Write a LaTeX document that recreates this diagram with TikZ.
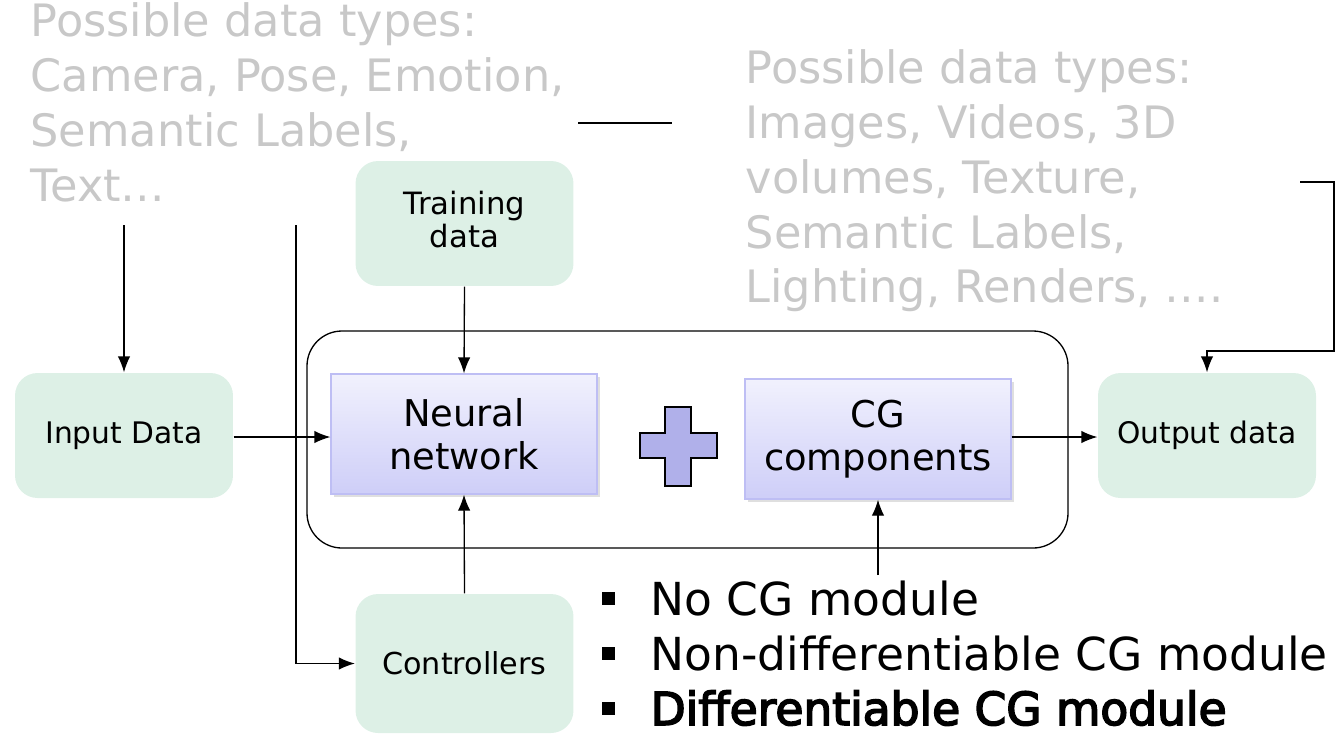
\documentclass[tikz,border=0pt]{standalone}
\usepackage{fontspec}
\setmainfont{DejaVu Sans}
\newfontfamily\heavyfont[FakeBold=3.5]{DejaVu Sans}
\usetikzlibrary{shadows,arrows.meta}

\definecolor{boxgreen}{RGB}{221,240,230}
\definecolor{textgrey}{RGB}{200,200,200}
\definecolor{nntop}{RGB}{241,241,253}
\definecolor{nnbottom}{RGB}{206,206,248}
\definecolor{nnedge}{RGB}{190,190,244}
\definecolor{plusfill}{RGB}{176,176,234}

\begin{document}
\begin{tikzpicture}[x=0.02cm,y=-0.02cm, line width=0.75pt,
	databox/.style={fill=boxgreen, rounded corners=0.45cm,
		minimum width=4.36cm, minimum height=2.5cm, align=center,
		font=\fontsize{16.9}{19}\selectfont},
	netbox/.style={draw=nnedge, top color=nntop, bottom color=nnbottom,
		minimum width=5.32cm, minimum height=2.4cm, align=center,
		font=\fontsize{21}{24.4}\selectfont,
		drop shadow={opacity=0.25, shadow xshift=1.5pt, shadow yshift=-1.5pt}},
	greytext/.style={text=textgrey, align=left, inner sep=0pt,
		anchor=north west, font=\fontsize{25.4}{31.2}\selectfont},
	arrow/.style={-{Latex[length=3.2mm, width=2.5mm]}}]

% frame %{{{2

	\useasboundingbox (0,0) rectangle (1341,745);

% grey texts %{{{2

	\node[greytext] (leftinfo) at (30,2)
		{Possible data types:\\Camera, Pose, Emotion,\\Semantic Labels,\\Text…};
	\node[greytext] (rightinfo) at (745,49)
		{Possible data types:\\Images, Videos, 3D\\volumes, Texture,\\Semantic Labels,\\Lighting, Renders, ….};

% outer frame %{{{2

	\draw[rounded corners=0.7cm] (307,331) rectangle (1068,548);

% boxes %{{{2

	\node[databox] (input) at (124,435.5) {Input Data};
	\node[databox, font=\fontsize{17.5}{18.7}\selectfont, text depth=4.5pt] (train) at (464.5,223.5) {Training\\data};
	\node[databox, minimum height=2.78cm, font=\fontsize{17.2}{19}\selectfont] (ctrl) at (464.5,663.5) {Controllers};
	\node[databox] (output) at (1207,435.5) {Output data};

	\node[netbox] (nn) at (464,434) {Neural\\network};
	\node[netbox] (cg) at (878,439) {CG\\components};

	% ---- plus sign

	\draw[fill=plusfill, line width=0.6pt] (665,407) -- (691,407) -- (691,433) -- (717,433)
		-- (717,458) -- (691,458) -- (691,486) -- (665,486) -- (665,458)
		-- (640,458) -- (640,433) -- (665,433) -- cycle;

% coordinates %{{{2

	\coordinate (inTop) at (124,225);
	\coordinate (ctrlTop) at (296,225);
	\coordinate (lineL) at (578,123);
	\coordinate (lineR) at (672,123);
	\coordinate (outStart) at (1300,182);
	\coordinate (outCorner) at (1334,182);
	\coordinate (outBend) at (1207,351);
	\coordinate (cgFrom) at (878,575);

% connectors %{{{2

	\draw[arrow] (inTop) -- (input.north);
	\draw[arrow] (ctrlTop) |- (ctrl.west);
	\draw (lineL) -- (lineR);
	\draw[arrow] (outStart) -- (outCorner) |- (outBend) -- (output.north);

	\draw[arrow] (input.east |- 0,437) -- (nn.west |- 0,437);
	\draw[arrow] (train.south) -- (nn.north);
	\draw[arrow] (ctrl.north) -- (nn.south);
	\draw[arrow] (cg.east |- 0,437) -- (output.west |- 0,437);
	\draw[arrow] (cgFrom) -- (cg.south);

% bullet list %{{{2

	\foreach \y/\txt [count=\i] in {615/{No CG module}, 670/{Non-differentiable CG module},
		725/{\heavyfont Differentiable CG module}} {
		\fill (601.5,\y-23.5) rectangle ++(13,13);
		\node[anchor=base west, inner sep=0pt, font=\fontsize{25.9}{30}\selectfont]
			(item\i) at (650,\y) {\txt};
	}

% closing %{{{2

\end{tikzpicture}
\end{document}
